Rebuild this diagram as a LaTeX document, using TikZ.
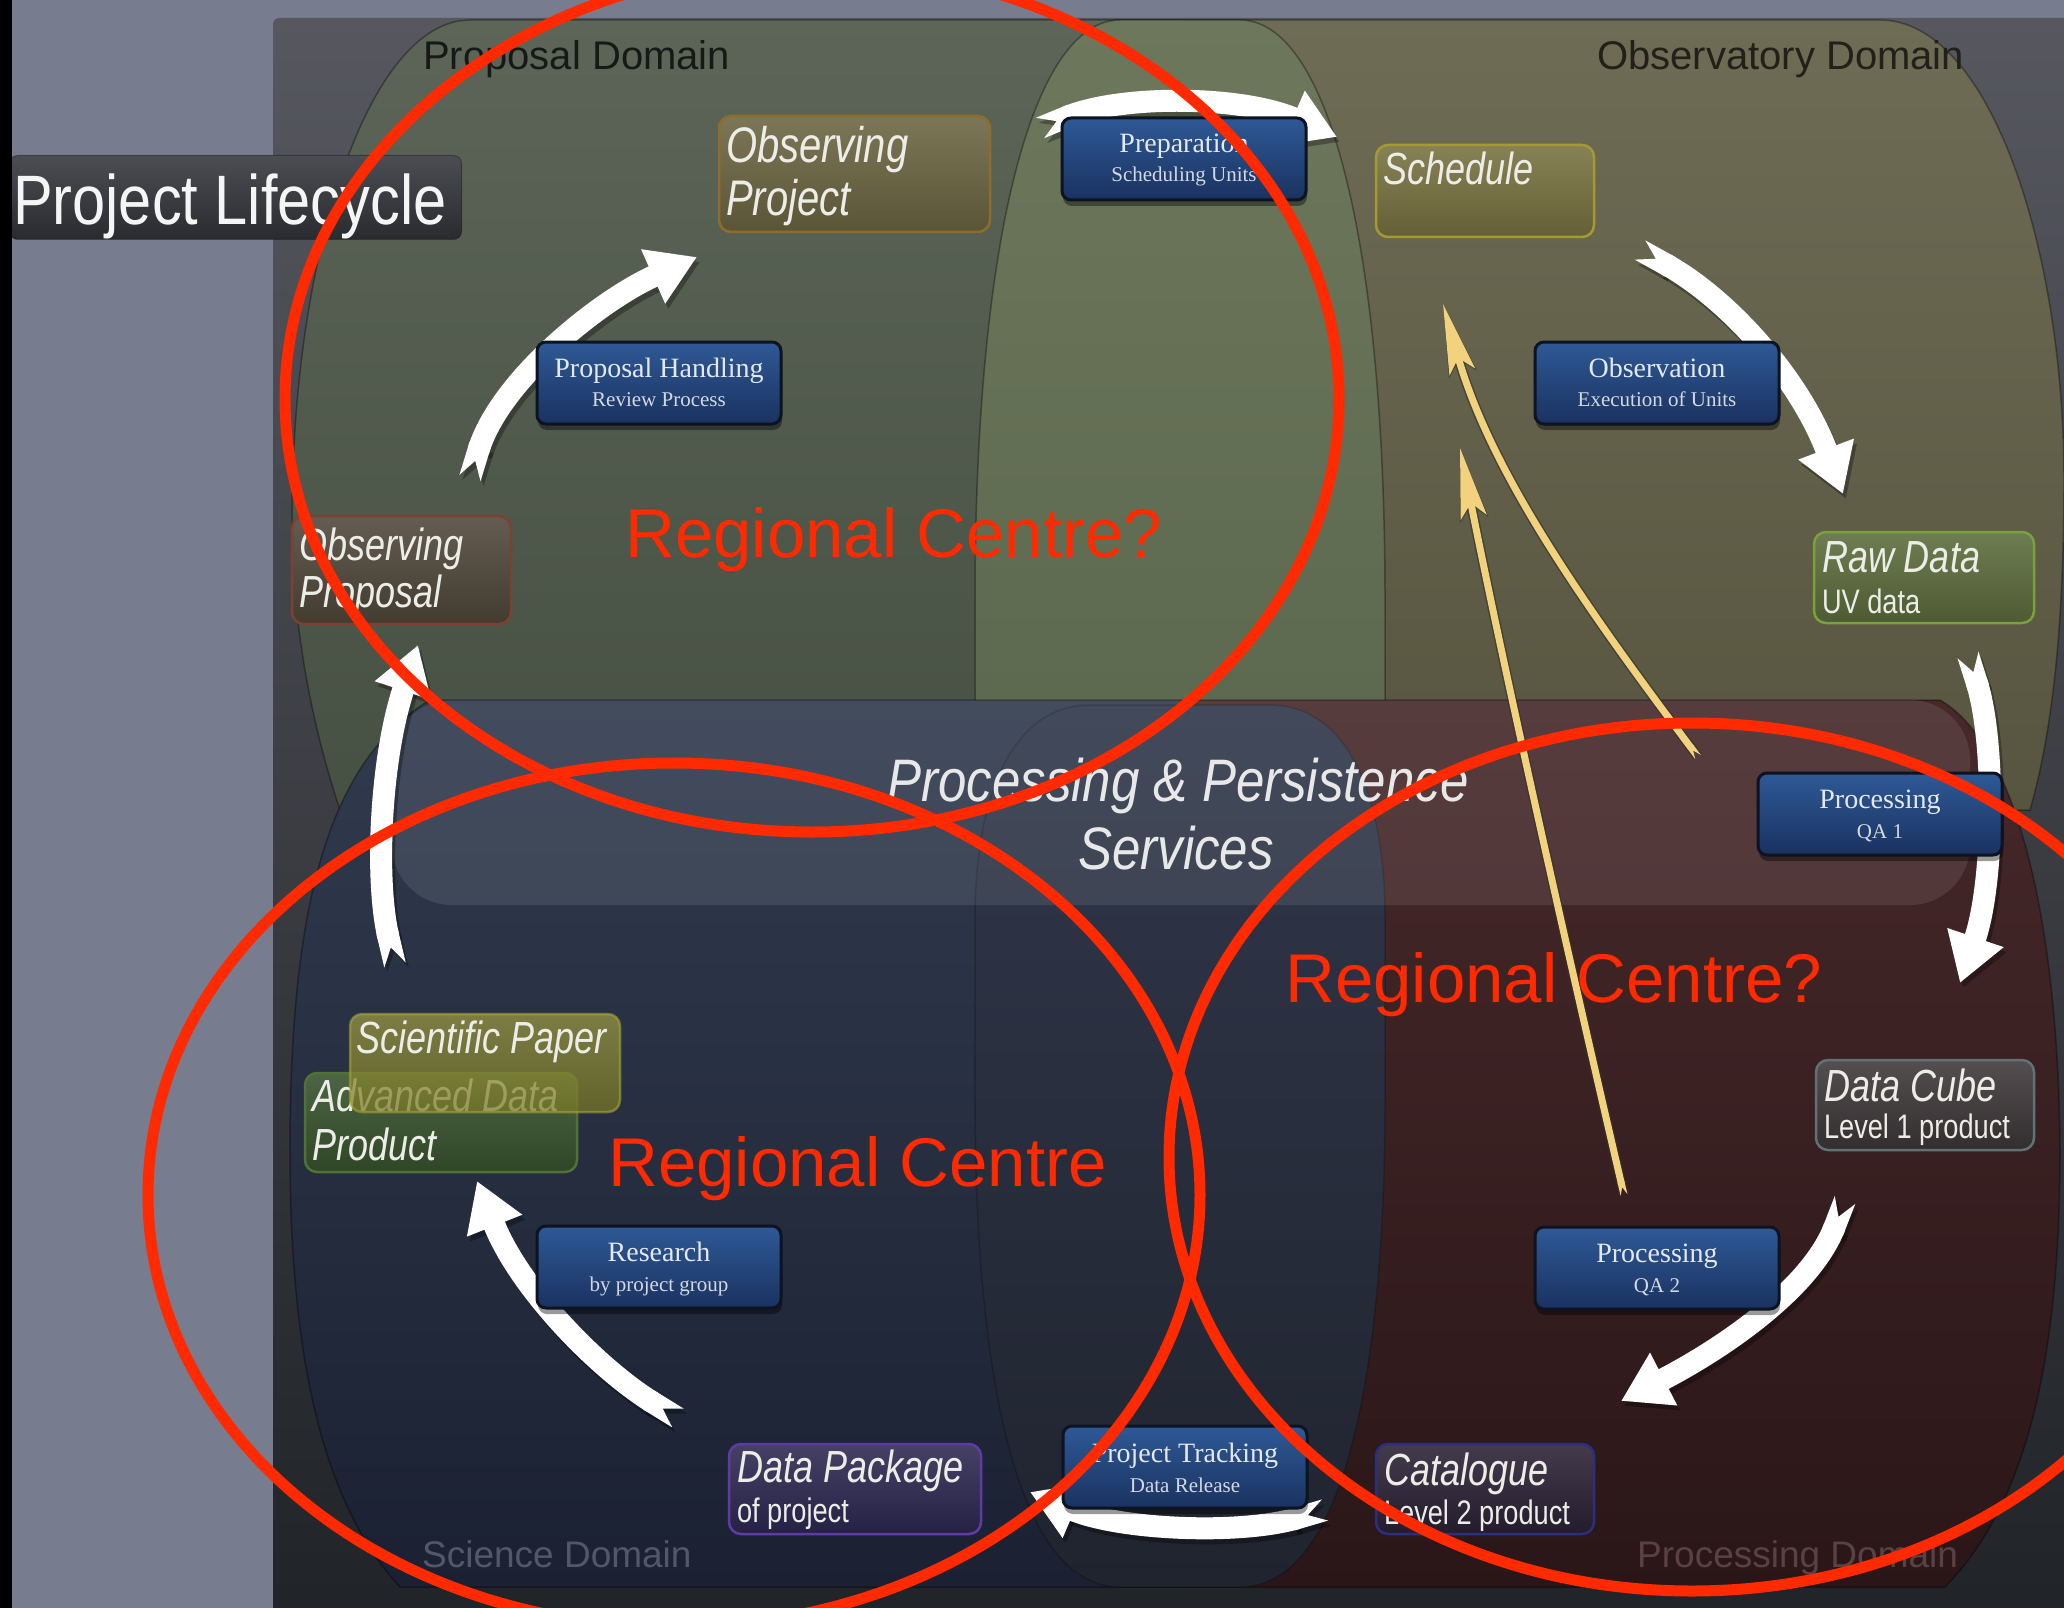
\documentclass[tikz,border=0pt]{standalone}
\usepackage{fontspec}
\setmainfont{Liberation Sans}
\newfontfamily\lnarrow[FakeStretch=0.8]{Liberation Sans}
\newfontfamily\lheading[FakeStretch=0.85]{Liberation Sans}
\newfontfamily\lserif{Liberation Serif}
\usetikzlibrary{arrows.meta,shadows}

% palette
\definecolor{bgslate}{HTML}{777C8E}
\definecolor{panelTop}{HTML}{56575F}
\definecolor{panelBot}{HTML}{202327}
\definecolor{propTop}{HTML}{5C6557}
\definecolor{propBot}{HTML}{465043}
\definecolor{obsTop}{HTML}{6E6C55}
\definecolor{obsBot}{HTML}{57553F}
\definecolor{colTop}{HTML}{6D775B}
\definecolor{colBot}{HTML}{5B684E}
\definecolor{sciTop}{HTML}{313B4E}
\definecolor{sciBot}{HTML}{1B2132}
\definecolor{prcTop}{HTML}{47292A}
\definecolor{prcBot}{HTML}{2A1618}
\definecolor{lcolTop}{HTML}{30374A}
\definecolor{lcolBot}{HTML}{20242F}
\definecolor{boxTop}{HTML}{2E5996}
\definecolor{boxBot}{HTML}{1A3260}
\definecolor{boxEdge}{HTML}{0D1320}
\definecolor{boxText}{HTML}{E4E8F0}
\definecolor{itemText}{HTML}{EDEDE8}
\definecolor{ringRed}{HTML}{FF2A00}
\definecolor{flowYellow}{HTML}{F2D27C}
\definecolor{obsprojEdge}{HTML}{8E6C2C}
\definecolor{obsprojFill}{HTML}{6A6440}
\definecolor{schedEdge}{HTML}{A49A34}
\definecolor{schedFill}{HTML}{77703F}
\definecolor{propEdge}{HTML}{7C4130}
\definecolor{propFill}{HTML}{4F4639}
\definecolor{rawEdge}{HTML}{78A23E}
\definecolor{rawFill}{HTML}{5B6B3B}
\definecolor{cubeEdge}{HTML}{617276}
\definecolor{cubeFill}{HTML}{3C3637}
\definecolor{catEdge}{HTML}{2B2F82}
\definecolor{catFill}{HTML}{2A2134}
\definecolor{pkgEdge}{HTML}{5E3CA6}
\definecolor{pkgFill}{HTML}{2C2750}
\definecolor{paperEdge}{HTML}{A7A53A}
\definecolor{paperFill}{HTML}{8F8D2A}
\definecolor{advEdge}{HTML}{4F7236}
\definecolor{advFill}{HTML}{3A572B}
\definecolor{lifeTop}{HTML}{4C4D53}
\definecolor{lifeBot}{HTML}{2A2B2F}

% outlines of the four domains and the two halves of the central column
\def\upperdomains{(470,20) -- (1880,20) .. controls (1990,20) and (2064,250) .. (2064,480) .. controls (2064,640) and (2050,740) .. (2030,810) -- (340,810) .. controls (310,720) and (292,620) .. (292,520) .. controls (292,250) and (370,20) .. (470,20) -- cycle}
\def\lowerdomains{(430,700) -- (1940,700) .. controls (2010,740) and (2058,900) .. (2060,1150) .. controls (2060,1350) and (2030,1500) .. (1945,1587) -- (400,1587) .. controls (320,1500) and (290,1350) .. (290,1150) .. controls (290,900) and (330,760) .. (430,700) -- cycle}
\def\uppercolumn{(1120,20) -- (1240,20) .. controls (1330,20) and (1385,250) .. (1385,600) -- (1385,800) -- (975,800) -- (975,600) .. controls (975,250) and (1030,20) .. (1120,20) -- cycle}
\def\lowercolumn{(1090,705) -- (1270,705) .. controls (1340,705) and (1385,780) .. (1385,920) -- (1385,1100) .. controls (1385,1350) and (1350,1587) .. (1240,1587) -- (1120,1587) .. controls (1010,1587) and (975,1350) .. (975,1100) -- (975,920) .. controls (975,780) and (1020,705) .. (1090,705) -- cycle}

\tikzset{
  domainedge/.style={draw=black, draw opacity=0.35, line width=1.5pt},
  itembox/.style 2 args={draw=#1, top color=#2!88!white, bottom color=#2!85!black, line width=2.5pt, rounded corners=12pt, inner sep=0pt, outer sep=0pt},
  procbox/.style={draw=boxEdge, line width=3pt, rounded corners=9pt, top color=boxTop, bottom color=boxBot,
    minimum width=244pt, minimum height=82pt, inner sep=0pt, outer sep=0pt,
    drop shadow={shadow xshift=1pt, shadow yshift=-6pt, opacity=0.4, fill=black}},
  bigitem/.style={font=\lnarrow\itshape\fontsize{45}{54}\selectfont, text=itemText, anchor=base west, inner sep=0pt, outer sep=0pt},
  smallitem/.style={font=\lnarrow\fontsize{34}{40}\selectfont, text=itemText, anchor=base west, inner sep=0pt, outer sep=0pt},
  ptitle/.style={font=\lserif\fontsize{28}{32}\selectfont, text=boxText, anchor=base, inner sep=0pt},
  psub/.style={font=\lserif\fontsize{21}{24}\selectfont, text=boxText!85!gray, anchor=base, inner sep=0pt},
  domainlabel/.style={font=\fontsize{40}{48}\selectfont, anchor=base west, inner sep=0pt},
  redlabel/.style={font=\fontsize{69}{80}\selectfont, text=ringRed, anchor=base west, inner sep=0pt},
  ring/.style={draw=ringRed, line width=11pt},
  flowW/.style={line width=22pt, draw=white, {Triangle Cap[reversed,length=18pt]}-{Triangle[width=56pt,length=48pt]}},
  flowWshade/.style={line width=22pt, draw=black, opacity=0.3, {Triangle Cap[reversed,length=18pt]}-{Triangle[width=56pt,length=48pt]}},
  flowY/.style={line width=7pt, draw=flowYellow, {Triangle Cap[reversed,length=8pt]}-{Stealth[width=26pt,length=70pt,inset=14pt]}},
  flowYedge/.style={line width=10pt, draw=black!80, opacity=0.6, {Triangle Cap[reversed,length=8pt]}-{Stealth[width=28pt,length=72pt,inset=14pt]}},
}

% curved white flow arrow with a soft shadow: start, controls, end
\newcommand\whiteflow[3]{%
  \draw[flowWshade, transform canvas={shift={(3pt,-5pt)}}] (#1) .. controls #2 .. (#3);
  \draw[flowW] (#1) .. controls #2 .. (#3);
}
% thin yellow feedback arrow with a dark rim
\newcommand\yellowflow[3]{%
  \draw[flowYedge] (#1) .. controls #2 .. (#3);
  \draw[flowY] (#1) .. controls #2 .. (#3);
}

\begin{document}
\begin{tikzpicture}[x=1pt,y=-1pt]
\useasboundingbox (0,0) rectangle (2064,1608);

% backdrop and panel
\fill[bgslate] (0,0) rectangle (2064,1608);
\shade[top color=panelTop, bottom color=panelBot, rounded corners=6pt] (273,18) rectangle (2090,1630);

% upper domains: proposal (left) and observatory (right)
\begin{scope}
  \clip (0,0) rectangle (1180,1608);
  \shade[top color=propTop, bottom color=propBot] \upperdomains;
\end{scope}
\begin{scope}
  \clip (1180,0) rectangle (2064,1608);
  \shade[top color=obsTop, bottom color=obsBot] \upperdomains;
\end{scope}
\draw[domainedge] \upperdomains;
\shade[top color=colTop, bottom color=colBot] \uppercolumn;
\draw[domainedge] \uppercolumn;

% lower domains: science (left) and processing (right)
\begin{scope}
  \clip (0,0) rectangle (1180,1608);
  \shade[top color=sciTop, bottom color=sciBot] \lowerdomains;
\end{scope}
\begin{scope}
  \clip (1180,0) rectangle (2064,1608);
  \shade[top color=prcTop, bottom color=prcBot] \lowerdomains;
\end{scope}
\draw[domainedge] \lowerdomains;
\shade[top color=lcolTop, bottom color=lcolBot] \lowercolumn;
\draw[domainedge, draw opacity=0.2] \lowercolumn;

% services band
\fill[white, fill opacity=0.09, rounded corners=60pt] (392,700) rectangle (1970,905);

% domain labels
\node[domainlabel, text=black!75!propTop] (lbl-prop) at (423,70) {Proposal Domain};
\node[domainlabel, text=black!70!obsTop] (lbl-obs) at (1597,70) {Observatory Domain};
\node[domainlabel, font=\fontsize{37}{44}\selectfont, text=sciTop!75!white!60!sciTop] (lbl-sci) at (422,1567) {Science Domain};
\node[domainlabel, font=\fontsize{37}{44}\selectfont, text=prcTop!80!white!55!prcTop] (lbl-prc) at (1637,1567) {Processing Domain};

% end points of the flow arrows
\coordinate (w1s) at (470,478);   \coordinate (w1e) at (697,257);
\coordinate (w2s) at (1040,128);  \coordinate (w2e) at (1337,137);
\coordinate (w3s) at (1640,250);  \coordinate (w3e) at (1843,494);
\coordinate (w4s) at (1968,655);  \coordinate (w4e) at (1960,983);
\coordinate (w5s) at (1845,1200); \coordinate (w5e) at (1621,1401);
\coordinate (w6s) at (1325,1510); \coordinate (w6e) at (1030,1492);
\coordinate (w7s) at (678,1418);  \coordinate (w7e) at (477,1181);
\coordinate (w8s) at (395,965);   \coordinate (w8e) at (418,645);
\coordinate (y1s) at (1624,1195); \coordinate (y1e) at (1460,448);
\coordinate (y2s) at (1698,757);  \coordinate (y2e) at (1443,304);

% lifecycle arrows
\whiteflow{w1s}{(500,380) and (600,300)}{w1e}
\whiteflow{w2s}{(1120,95) and (1240,95)}{w2e}
\whiteflow{w3s}{(1730,300) and (1800,380)}{w3e}
\whiteflow{w4s}{(1995,740) and (1995,880)}{w4e}
\whiteflow{w5s}{(1810,1290) and (1720,1350)}{w5e}
\whiteflow{w6s}{(1240,1535) and (1120,1530)}{w6e}
\whiteflow{w7s}{(600,1370) and (520,1290)}{w7e}
\whiteflow{w8s}{(375,880) and (380,760)}{w8e}

% feedback arrows
\yellowflow{y1s}{(1560,920) and (1500,650)}{y1e}
\yellowflow{y2s}{(1580,600) and (1490,470)}{y2e}

% products
\node[itembox={obsprojEdge}{obsprojFill}, minimum width=271pt, minimum height=116pt] (obsproj) at (854.5,174) {};
\node[bigitem, font=\lnarrow\itshape\fontsize{50}{60}\selectfont] (obsproj-a) at ([shift={(7,47)}]obsproj.north west) {Observing};
\node[bigitem, font=\lnarrow\itshape\fontsize{50}{60}\selectfont] (obsproj-b) at ([shift={(7,100)}]obsproj.north west) {Project};

\node[itembox={schedEdge}{schedFill}, minimum width=218pt, minimum height=92pt] (sched) at (1485,191) {};
\node[bigitem] (sched-a) at ([shift={(7,40)}]sched.north west) {Schedule};

\node[itembox={propEdge}{propFill}, minimum width=219pt, minimum height=108pt] (obsprop) at (401.5,570) {};
\node[bigitem] (obsprop-a) at ([shift={(7,44)}]obsprop.north west) {Observing};
\node[bigitem] (obsprop-b) at ([shift={(7,91)}]obsprop.north west) {Proposal};

\node[itembox={rawEdge}{rawFill}, minimum width=220pt, minimum height=91pt] (raw) at (1924,577.5) {};
\node[bigitem] (raw-a) at ([shift={(8,40)}]raw.north west) {Raw Data};
\node[smallitem] (raw-b) at ([shift={(8,81)}]raw.north west) {UV data};

\node[itembox={cubeEdge}{cubeFill}, minimum width=218pt, minimum height=90pt] (cube) at (1925,1105) {};
\node[bigitem] (cube-a) at ([shift={(8,41)}]cube.north west) {Data Cube};
\node[smallitem] (cube-b) at ([shift={(8,78)}]cube.north west) {Level 1 product};

\node[itembox={catEdge}{catFill}, minimum width=218pt, minimum height=90pt] (cat) at (1485,1489) {};
\node[bigitem] (cat-a) at ([shift={(8,41)}]cat.north west) {Catalogue};
\node[smallitem] (cat-b) at ([shift={(8,80)}]cat.north west) {Level 2 product};

\node[itembox={pkgEdge}{pkgFill}, minimum width=252pt, minimum height=90pt] (pkg) at (855,1489) {};
\node[bigitem] (pkg-a) at ([shift={(8,38)}]pkg.north west) {Data Package};
\node[smallitem] (pkg-b) at ([shift={(8,78)}]pkg.north west) {of project};

\node[itembox={advEdge}{advFill}, minimum width=272pt, minimum height=99pt, fill opacity=0.9] (adv) at (441,1122.5) {};
\node[bigitem] (adv-a) at ([shift={(7,38)}]adv.north west) {Advanced Data};
\node[bigitem] (adv-b) at ([shift={(7,87)}]adv.north west) {Product};

\node[itembox={paperEdge}{paperFill}, minimum width=270pt, minimum height=98pt, fill opacity=0.72, draw opacity=0.6] (paper) at (485,1063) {};
\node[bigitem] (paper-a) at ([shift={(6,39)}]paper.north west) {Scientific Paper};

% processes
\node[procbox] (prep) at (1184,159) {};
\node[ptitle] (prep-a) at ([shift={(0,35)}]prep.north) {Preparation};
\node[psub] (prep-b) at ([shift={(0,64)}]prep.north) {Scheduling Units};

\node[procbox] (handling) at (659,383) {};
\node[ptitle] (handling-a) at ([shift={(0,35)}]handling.north) {Proposal Handling};
\node[psub] (handling-b) at ([shift={(0,64)}]handling.north) {Review Process};

\node[procbox] (observe) at (1657,383) {};
\node[ptitle] (observe-a) at ([shift={(0,35)}]observe.north) {Observation};
\node[psub] (observe-b) at ([shift={(0,64)}]observe.north) {Execution of Units};

\node[procbox] (qa1) at (1880,814) {};
\node[ptitle] (qa1-a) at ([shift={(0,35)}]qa1.north) {Processing};
\node[psub] (qa1-b) at ([shift={(0,65)}]qa1.north) {QA 1};

\node[procbox] (qa2) at (1657,1268) {};
\node[ptitle] (qa2-a) at ([shift={(0,35)}]qa2.north) {Processing};
\node[psub] (qa2-b) at ([shift={(0,65)}]qa2.north) {QA 2};

\node[procbox] (research) at (659,1267) {};
\node[ptitle] (research-a) at ([shift={(0,35)}]research.north) {Research};
\node[psub] (research-b) at ([shift={(0,65)}]research.north) {by project group};

\node[procbox] (tracking) at (1185,1467) {};
\node[ptitle] (tracking-a) at ([shift={(0,36)}]tracking.north) {Project Tracking};
\node[psub] (tracking-b) at ([shift={(0,66)}]tracking.north) {Data Release};

% services band caption
\node[font=\lheading\itshape\fontsize{60}{70}\selectfont, text=white!82!gray, anchor=base, inner sep=0pt] (band-a) at (1178,801) {Processing \& Persistence};
\node[font=\lheading\itshape\fontsize{60}{70}\selectfont, text=white!82!gray, anchor=base, inner sep=0pt] (band-b) at (1176,869) {Services};

% title tab
\node[draw=black, draw opacity=0.3, line width=1pt, top color=lifeTop, bottom color=lifeBot, rounded corners=8pt,
      minimum width=452pt, minimum height=84pt, inner sep=0pt, anchor=north west] (life) at (9,155) {};
\node[font=\lheading\fontsize{70}{84}\selectfont, text=white!92!gray, anchor=base west, inner sep=0pt] (life-a) at (13,225) {Project Lifecycle};

% left edge strip
\fill[black] (0,0) rectangle (12,1608);

% regional centre rings
\draw[ring] (812,399) ellipse [x radius=527, y radius=433];
\draw[ring] (674,1195) ellipse [x radius=526, y radius=432];
\draw[ring] (1692,1157) ellipse [x radius=523, y radius=434];
\node[redlabel] (rc1) at (625,557) {Regional Centre?};
\node[redlabel] (rc2) at (608,1186) {Regional Centre};
\node[redlabel] (rc3) at (1285,1002) {Regional Centre?};

\end{tikzpicture}
\end{document}
